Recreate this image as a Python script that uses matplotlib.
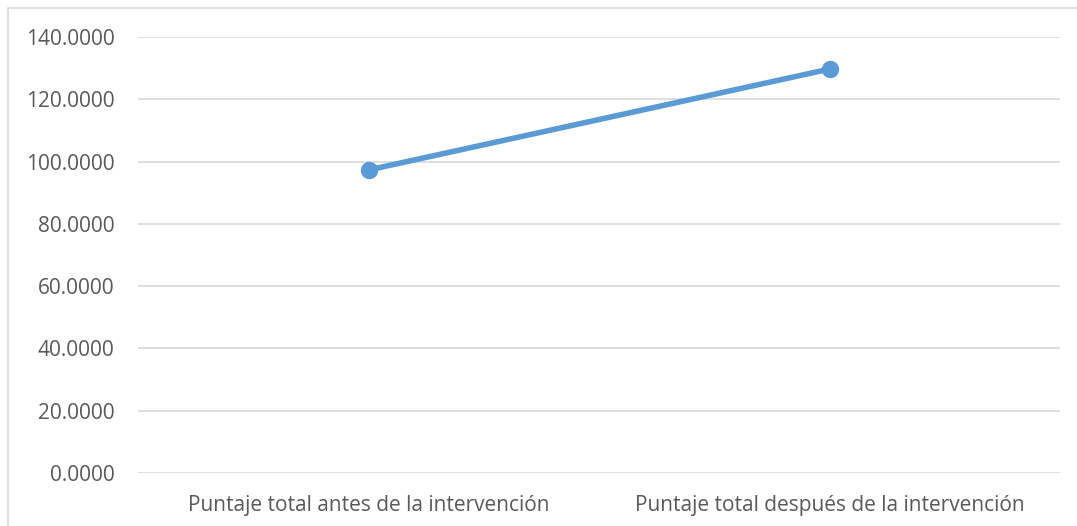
import matplotlib.pyplot as plt
from matplotlib.patches import Rectangle

# data
categories = ["Puntaje total antes de la intervención",
              "Puntaje total después de la intervención"]
scores = [97.3, 129.7]
y_ticks = [0, 20, 40, 60, 80, 100, 120, 140]

plt.rcParams['font.family'] = ['Open Sans', 'DejaVu Sans']

fig = plt.figure(figsize=(10.77, 5.26), dpi=100)
ax = fig.add_axes([138 / 1077, 1 - 473 / 526, (1060 - 138) / 1077, (473 - 37) / 526])

x = list(range(len(categories)))
ax.plot(x, scores, color='#5B9BD5', linewidth=4, marker='o', markersize=11.5,
        solid_capstyle='round', zorder=3)

ax.set_xlim(-0.5, len(categories) - 0.5)
ax.set_ylim(0, 140)
ax.set_yticks(y_ticks)
ax.set_yticklabels([f"{v:.4f}" for v in y_ticks])
ax.set_xticks(x)
ax.set_xticklabels(categories)

ax.grid(axis='y', color='#D9D9D9', linewidth=1.2, zorder=0)
for s in ax.spines.values():
    s.set_visible(False)
ax.tick_params(axis='both', length=0, labelsize=15, colors='#595959')
ax.tick_params(axis='y', pad=17)
ax.tick_params(axis='x', pad=16)

# outer chart border (top and left visible)
fig.patches.append(Rectangle((8 / 1077, -0.1), 1.2, 1 - 8 / 526 + 0.1,
                             transform=fig.transFigure, fill=False,
                             edgecolor='#D9D9D9', linewidth=1.2))

fig.savefig("out.png", dpi=100)
